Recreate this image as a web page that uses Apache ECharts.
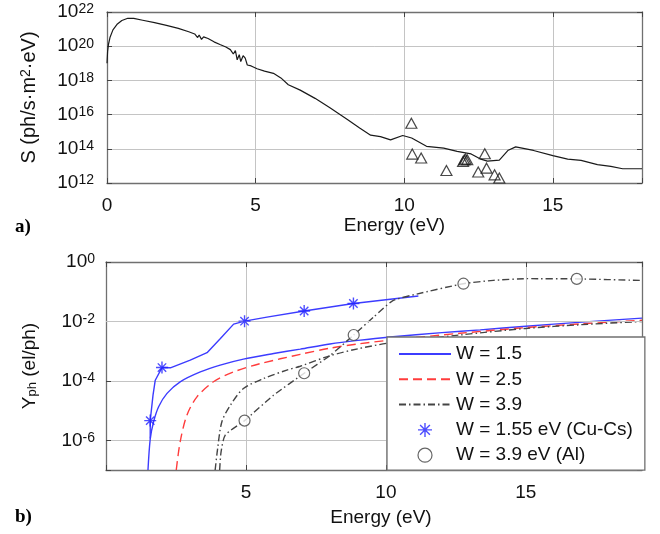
<!DOCTYPE html>
<html><head><meta charset="utf-8">
<script src="https://cdn.jsdelivr.net/npm/echarts@6/dist/echarts.min.js"></script>
<style>html,body{margin:0;padding:0;background:#fff}#c{width:660px;height:534px;background:#fff}</style>
</head><body><div id="c"></div>
<script>
// ---------- Panel a) : spectrum S(E) ----------
const specE = [0.00,0.02,0.05,0.10,0.20,0.35,0.50,0.70,0.90,1.20,1.60,2.00,2.40,2.75,2.95,3.05,3.10,3.18,3.25,3.40,3.60,3.80,4.00,4.15,4.25,4.32,4.38,4.45,4.50,4.58,4.65,4.72,4.85,5.05,5.30,5.60,5.85,6.10,6.50,7.00,7.50,8.10,8.50,8.87,9.20,9.54,9.95,10.25,10.75,11.33,11.78,12.25,12.55,12.80,13.20,13.50,13.75,14.35,15.00,15.50,15.95,16.50,16.95,17.35,18.00];
const specS = [1e19,5e19,1.3e20,3.2e20,9e20,2e21,3.2e21,4.3e21,4.2e21,3.3e21,2.4e21,1.66e21,1.1e21,7e20,5.2e20,3.2e20,4.5e20,2.5e20,3.5e20,2.8e20,1.8e20,1.26e20,8.9e19,6.3e19,3.5e19,5.6e19,1.6e19,3.2e19,1.26e19,2.8e19,2e19,8e18,7e18,4.8e18,3.5e18,2.6e18,1.4e18,5.6e17,2.7e17,8.9e16,2.5e16,5e15,1.66e15,6.3e14,5.2e14,3.3e14,6e14,4.3e14,1.4e14,1.1e14,7e13,5e13,2.6e13,1.9e13,2.2e13,8.3e13,1.3e14,8e13,4e13,2.5e13,2.1e13,1.2e13,9.3e12,6.8e12,6.8e12];
const triE = [10.24,10.27,10.57,11.42,11.98,12.02,12.06,12.12,12.71,12.49,12.77,13.04,13.20];
const triS = [3.1e15,4.9e13,2.9e13,5.4e12,1.8e13,2.2e13,2.5e13,2.3e13,5.1e13,4.4e12,7.4e12,3.0e12,1.95e12];
const xTicksA = [0,5,10,15];
const yExpA = [12,14,16,18,20,22];

// ---------- Panel b) : yield Y_ph(E) ----------
const w15E = [1.50,1.58,1.70,1.88,2.18,2.65,3.37,4.08,4.91,5.99,6.94,8.00,9.00,10.15,12.00,13.37,15.00,17.00,19.15];
const w15Y = [1e-7,1.1e-6,4.2e-6,1.35e-5,3.8e-5,9.3e-5,2e-4,3.4e-4,5.4e-4,8.3e-4,1.17e-3,1.74e-3,2.3e-3,3.0e-3,4.2e-3,5.2e-3,6.9e-3,9.5e-3,1.29e-2];
const w25E = [2.51,2.65,2.89,3.25,3.84,4.56,5.51,6.94,8.00,9.00,10.15,12.65,15.00,17.00,19.15];
const w25Y = [1e-7,8.9e-7,7e-6,2.9e-5,9.3e-5,2e-4,3.8e-4,7.8e-4,1.26e-3,1.74e-3,2.35e-3,4e-3,6.2e-3,8.3e-3,1.1e-2];
const w39E = [3.90,3.99,4.14,4.44,4.91,5.63,6.46,6.94,8.00,9.00,10.15,12.65,15.00,17.00,19.15];
const w39Y = [1e-7,5.4e-7,4.2e-6,1.5e-5,5.5e-5,1.2e-4,2.3e-4,3.1e-4,7e-4,1.2e-3,1.9e-3,3.5e-3,5.8e-3,7.8e-3,1e-2];
const cuLineE = [1.58,1.58,1.68,1.76,2.00,2.30,3.01,3.61,4.08,4.56,4.95,5.75,7.08,8.84,11.16];
const cuLineY = [1.15e-6,4.6e-6,3.3e-5,1.05e-4,2.8e-4,2.75e-4,5e-4,8.9e-4,2.6e-3,8.1e-3,1.02e-2,1.4e-2,2.24e-2,4e-2,7.2e-2];
const cuStarE = [1.58,2.00,4.95,7.08,8.84];
const cuStarY = [4.6e-6,2.8e-4,1.02e-2,2.24e-2,4e-2];
const alLineE = [4.06,4.11,4.26,4.95,5.99,7.08,8.01,8.85,9.56,10.25,11.10,12.77,13.84,15.04,16.82,19.15];
const alLineY = [1e-7,4e-7,1.5e-6,4.6e-6,3.3e-5,1.8e-4,7.2e-4,3.5e-3,1.4e-2,5e-2,8.3e-2,0.186,0.24,0.275,0.27,0.24];
const alCircE = [4.95,7.08,8.85,12.77,16.82];
const alCircY = [4.6e-6,1.8e-4,3.5e-3,0.186,0.27];
const xTicksB = [5,10,15];
const yExpB = [-6,-4,-2,0];

const FONT = '"Liberation Sans", Arial, Helvetica, sans-serif';
const TXT = '#111';
const GRIDC = '#c4c4c4';
const pair = (xs, ys) => xs.map((x, i) => [x, ys[i]]);

const rich = {
  b: {fontSize: 19, lineHeight: 19, verticalAlign: 'bottom', fontFamily: FONT, color: TXT},
  s: {fontSize: 14, lineHeight: 14, padding: [0, 0, 10, 0], verticalAlign: 'top', fontFamily: FONT, color: TXT}
};
function powLabel(exps) {
  return function (v) {
    const l = Math.log10(v), e = Math.round(l);
    if (Math.abs(l - e) > 1e-6 || exps.indexOf(e) < 0) return '';
    return '{b|10}{s|' + e + '}';
  };
}
function tickLabel(ticks) {
  return v => (ticks.indexOf(Math.round(v * 1000) / 1000) >= 0 ? String(v) : '');
}
const mkTick = () => ({show: true, inside: true, length: 5, lineStyle: {color: '#444', width: 1}});
const mkSplit = () => ({show: true, lineStyle: {color: GRIDC, width: 1}});
const mkLine = () => ({show: true, onZero: false, lineStyle: {color: '#707070', width: 1.3}});

function xMain(grid, max, ticks, gap, pad) {
  return {
    gridIndex: grid, type: 'value', min: 0, max: max, interval: 5, position: 'bottom',
    axisLine: mkLine(), axisTick: mkTick(), splitLine: mkSplit(),
    axisLabel: {margin: 13, fontSize: 19, fontFamily: FONT, color: TXT, formatter: tickLabel(ticks)},
    name: 'Energy (eV)', nameLocation: 'middle', nameGap: gap,
    nameTextStyle: {fontSize: 19, fontFamily: FONT, color: TXT, padding: pad}
  };
}
function xTop(grid, max) {
  return {gridIndex: grid, type: 'value', min: 0, max: max, interval: 5, position: 'top',
    axisLine: mkLine(), axisTick: mkTick(), splitLine: {show: false}, axisLabel: {show: false}};
}
function yRight(grid, min, max) {
  return {gridIndex: grid, type: 'log', logBase: 100, min: min, max: max, position: 'right',
    axisLine: mkLine(), axisTick: mkTick(), splitLine: mkSplit(), axisLabel: {show: false}};
}
const noSym = {color: 'rgba(0,0,0,0)', borderWidth: 0, borderColor: 'rgba(0,0,0,0)'};

// horizontal grid lines of panel b at the labelled decades (inside the plot only)
const gridLinesB = {
  silent: true, symbol: ['none', 'none'], label: {show: false},
  lineStyle: {color: GRIDC, width: 1, type: 'solid'},
  emphasis: {disabled: true},
  data: yExpB.filter(e => e < 0).map(e => ({yAxis: Math.pow(10, e)}))
};

const option = {
  animation: false,
  grid: [
    {left: 107, right: 18, top: 12, height: 171, show: false},
    {left: 106, right: 18, top: 262, height: 208, show: false}
  ],
  xAxis: [
    xMain(0, 18, xTicksA, 32, [0, 0, 0, 40]),
    xTop(0, 18),
    xMain(1, 19.15, xTicksB, 38, [0, 0, 0, 14]),
    xTop(1, 19.15)
  ],
  yAxis: [
    {gridIndex: 0, type: 'log', logBase: 100, min: 1e12, max: 1e22,
      axisLine: mkLine(), axisTick: mkTick(), splitLine: mkSplit(),
      axisLabel: {margin: 13, formatter: powLabel(yExpA), rich: rich},
      name: '{a|S (ph/s·m}{p|2}{a|·eV)}', nameLocation: 'middle', nameRotate: 90, nameGap: 68,
      nameTextStyle: {rich: {
        a: {fontSize: 20, lineHeight: 20, verticalAlign: 'bottom', fontFamily: FONT, color: TXT},
        p: {fontSize: 14, lineHeight: 14, padding: [0, 0, 10, 0], verticalAlign: 'top', fontFamily: FONT, color: TXT}
      }}
    },
    yRight(0, 1e12, 1e22),
    {gridIndex: 1, type: 'log', logBase: 100, min: 1e-7, max: 1,
      axisLine: mkLine(), axisTick: mkTick(), splitLine: mkSplit(),
      axisLabel: {margin: 11, formatter: powLabel(yExpB), rich: rich},
      name: '{a|Y}{q|ph}{a| (el/ph)}', nameLocation: 'middle', nameRotate: 90, nameGap: 67,
      nameTextStyle: {rich: {
        a: {fontSize: 19, lineHeight: 19, verticalAlign: 'top', fontFamily: FONT, color: TXT},
        q: {fontSize: 13, lineHeight: 13, padding: [10, 0, 0, 0], verticalAlign: 'bottom', fontFamily: FONT, color: TXT}
      }}
    },
    yRight(1, 1e-7, 1)
  ],
  legend: {
    left: 387, top: 337, orient: 'vertical',
    backgroundColor: '#fff', borderColor: '#707070', borderWidth: 1.3,
    padding: [7, 12, 5, 11], itemWidth: 52, itemHeight: 14, itemGap: 5.3,
    textStyle: {fontSize: 19, lineHeight: 20, fontFamily: FONT, color: TXT},
    data: [
      {name: 'W = 1.5', itemStyle: noSym}, {name: 'W = 2.5', itemStyle: noSym}, {name: 'W = 3.9', itemStyle: noSym},
      {name: 'W = 1.55 eV (Cu-Cs)', itemStyle: {borderWidth: 1.4}},
      {name: 'W = 3.9 eV (Al)', itemStyle: {borderWidth: 1.2}}
    ]
  },
  graphic: [
    {type: 'text', left: 15, top: 218, style: {text: 'a)', font: 'bold 19px "Liberation Serif", "Times New Roman", serif', fill: '#000'}},
    {type: 'text', left: 15, top: 508, style: {text: 'b)', font: 'bold 19px "Liberation Serif", "Times New Roman", serif', fill: '#000'}}
  ],
  series: [
    {name: 'Spectrum', type: 'line', xAxisIndex: 0, yAxisIndex: 0, data: pair(specE, specS),
      symbol: 'none', lineStyle: {color: '#1a1a1a', width: 1.2}},
    {name: 'Measured', type: 'scatter', xAxisIndex: 0, yAxisIndex: 0, data: pair(triE, triS),
      symbol: 'triangle', symbolSize: [11, 10],
      itemStyle: {color: 'rgba(255,255,255,0)', borderColor: '#1a1a1a', borderWidth: 1.2}},

    {name: 'W = 1.5', type: 'line', xAxisIndex: 2, yAxisIndex: 2, data: pair(w15E, w15Y), z: 1,
      symbol: 'none', smooth: 0.3, lineStyle: {color: '#3c3cff', width: 1.4}, itemStyle: {color: '#3c3cff'},
      markLine: gridLinesB},
    {name: 'W = 2.5', type: 'line', xAxisIndex: 2, yAxisIndex: 2, data: pair(w25E, w25Y),
      symbol: 'none', smooth: 0.3, lineStyle: {color: '#ff3c3c', width: 1.4, type: [9, 5]}, itemStyle: {color: '#ff3c3c'}},
    {name: 'W = 3.9', type: 'line', xAxisIndex: 2, yAxisIndex: 2, data: pair(w39E, w39Y),
      symbol: 'none', smooth: 0.3, lineStyle: {color: '#444', width: 1.4, type: [7, 3, 1.5, 3]}, itemStyle: {color: '#444'}},
    {name: 'Cu-Cs fit', type: 'line', xAxisIndex: 2, yAxisIndex: 2, data: pair(cuLineE, cuLineY),
      symbol: 'none', lineStyle: {color: '#3c3cff', width: 1.4}},
    {name: 'Al fit', type: 'line', xAxisIndex: 2, yAxisIndex: 2, data: pair(alLineE, alLineY),
      symbol: 'none', smooth: 0.2, lineStyle: {color: '#444', width: 1.4, type: [7, 3, 1.5, 3]}},
    {name: 'W = 1.55 eV (Cu-Cs)', type: 'scatter', xAxisIndex: 2, yAxisIndex: 2, data: pair(cuStarE, cuStarY),
      symbol: 'path://M0,-6L0,6M-6,0L6,0M-4.2,-4.2L4.2,4.2M-4.2,4.2L4.2,-4.2', symbolSize: 12, symbolKeepAspect: true,
      itemStyle: {color: 'rgba(0,0,255,0)', borderColor: '#2020ff', borderWidth: 1.4}, z: 5},
    {name: 'W = 3.9 eV (Al)', type: 'scatter', xAxisIndex: 2, yAxisIndex: 2, data: pair(alCircE, alCircY),
      symbol: 'circle', symbolSize: 11,
      itemStyle: {color: '#fff', borderColor: '#404040', borderWidth: 1.2}, z: 5}
  ]
};
const chart = echarts.init(document.getElementById('c'), null, {renderer: 'canvas'});
chart.setOption(option);
</script>
</body></html>
